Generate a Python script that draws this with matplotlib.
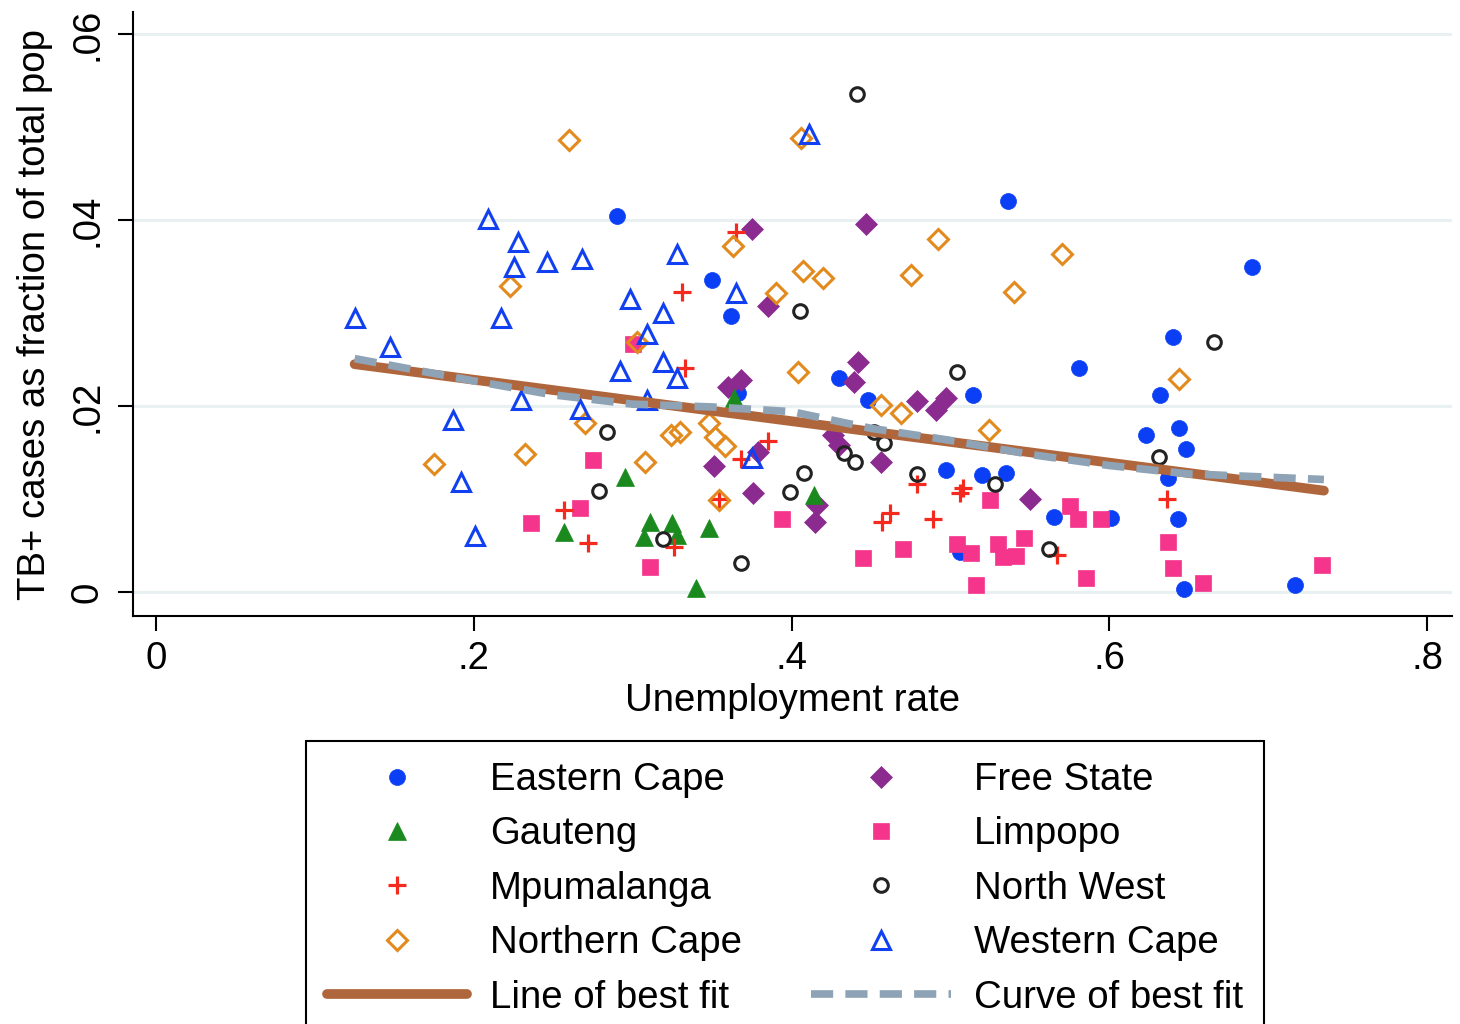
import matplotlib
matplotlib.use("Agg")
import matplotlib.pyplot as plt

plt.rcParams['font.family'] = ['Liberation Sans', 'DejaVu Sans']

# ---- data ----
ec_x = [0.290, 0.350, 0.362, 0.366, 0.430, 0.448, 0.514, 0.497, 0.520, 0.535, 0.565, 0.506, 0.536,
        0.690, 0.640, 0.581, 0.632, 0.623, 0.644, 0.648, 0.637, 0.601, 0.643, 0.647, 0.717]
ec_y = [0.0404, 0.0336, 0.0297, 0.0214, 0.0230, 0.0207, 0.0212, 0.0131, 0.0126, 0.0128, 0.0081, 0.0043, 0.0420,
        0.0349, 0.0274, 0.0241, 0.0212, 0.0169, 0.0176, 0.0154, 0.0123, 0.0080, 0.0078, 0.0003, 0.0007]

fs_x = [0.375, 0.447, 0.385, 0.442, 0.439, 0.368, 0.360, 0.479, 0.497, 0.491, 0.426, 0.430, 0.379,
        0.351, 0.456, 0.376, 0.416, 0.415, 0.550]
fs_y = [0.0390, 0.0396, 0.0308, 0.0247, 0.0226, 0.0228, 0.0220, 0.0205, 0.0209, 0.0196, 0.0169, 0.0158, 0.0151,
        0.0135, 0.0140, 0.0106, 0.0094, 0.0075, 0.0100]

ga_x = [0.364, 0.414, 0.295, 0.257, 0.311, 0.307, 0.325, 0.328, 0.348, 0.340]
ga_y = [0.0209, 0.0104, 0.0124, 0.0065, 0.0075, 0.0059, 0.0074, 0.0061, 0.0069, 0.0004]

li_x = [0.300, 0.275, 0.267, 0.236, 0.311, 0.394, 0.445, 0.470, 0.504, 0.513, 0.516, 0.525, 0.530,
        0.533, 0.541, 0.546, 0.575, 0.580, 0.595, 0.585, 0.637, 0.640, 0.659, 0.734]
li_y = [0.0267, 0.0142, 0.0090, 0.0074, 0.0027, 0.0078, 0.0037, 0.0046, 0.0052, 0.0042, 0.0008, 0.0099, 0.0052,
        0.0038, 0.0039, 0.0058, 0.0092, 0.0079, 0.0078, 0.0015, 0.0054, 0.0026, 0.0010, 0.0029]

mp_x = [0.365, 0.331, 0.333, 0.257, 0.272, 0.326, 0.385, 0.368, 0.354, 0.479, 0.508, 0.506, 0.462,
        0.457, 0.489, 0.567, 0.636]
mp_y = [0.0387, 0.0323, 0.0241, 0.0088, 0.0053, 0.0048, 0.0162, 0.0143, 0.0100, 0.0116, 0.0112, 0.0106, 0.0085,
        0.0075, 0.0079, 0.0040, 0.0100]

nw_x = [0.441, 0.405, 0.504, 0.666, 0.631, 0.562, 0.284, 0.279, 0.319, 0.452, 0.458, 0.433, 0.440,
        0.408, 0.399, 0.479, 0.528, 0.368]
nw_y = [0.0535, 0.0302, 0.0237, 0.0269, 0.0145, 0.0046, 0.0172, 0.0109, 0.0057, 0.0172, 0.0160, 0.0150, 0.0140,
        0.0128, 0.0108, 0.0127, 0.0116, 0.0031]

nc_x = [0.260, 0.406, 0.363, 0.390, 0.407, 0.420, 0.492, 0.475, 0.540, 0.570, 0.644, 0.404, 0.456, 0.469,
        0.524, 0.348, 0.352, 0.358, 0.324, 0.330, 0.308, 0.232, 0.175, 0.270, 0.223, 0.303, 0.354]
nc_y = [0.0486, 0.0488, 0.0372, 0.0322, 0.0345, 0.0338, 0.0380, 0.0341, 0.0323, 0.0363, 0.0229, 0.0237, 0.0201, 0.0192,
        0.0174, 0.0182, 0.0167, 0.0157, 0.0169, 0.0172, 0.0140, 0.0148, 0.0138, 0.0182, 0.0329, 0.0269, 0.0099]

wc_x = [0.411, 0.209, 0.228, 0.225, 0.246, 0.268, 0.328, 0.298, 0.319, 0.309, 0.217, 0.125, 0.147, 0.365,
        0.292, 0.319, 0.328, 0.230, 0.267, 0.309, 0.187, 0.192, 0.201, 0.375]
wc_y = [0.0492, 0.0401, 0.0376, 0.0350, 0.0355, 0.0358, 0.0363, 0.0315, 0.0300, 0.0277, 0.0295, 0.0295, 0.0263, 0.0322,
        0.0238, 0.0247, 0.0230, 0.0207, 0.0197, 0.0207, 0.0185, 0.0118, 0.0060, 0.0144]

fit_x = [0.125, 0.735]
fit_y = [0.0245, 0.0109]

curve_x = [0.125, 0.15, 0.20, 0.25, 0.30, 0.35, 0.40, 0.45, 0.50, 0.55, 0.60, 0.65, 0.735]
curve_y = [0.0251, 0.0243, 0.0227, 0.0212, 0.0202, 0.0199, 0.0194, 0.0176, 0.0163, 0.0148, 0.0136, 0.0127, 0.0121]

x_ticks = [0, 0.2, 0.4, 0.6, 0.8]
x_ticklabels = ['0', '.2', '.4', '.6', '.8']
y_ticks = [0, 0.02, 0.04, 0.06]
y_ticklabels = ['0', '.02', '.04', '.06']

# ---- styles ----
FS = 27.6
BLUE = '#0a3ff5'
styles = {
    'Eastern Cape': dict(marker='o', ms=11.5, mfc=BLUE, mec=BLUE, mew=0.5),
    'Free State': dict(marker='D', ms=10.8, mfc='#8b2a8f', mec='#8b2a8f', mew=0.5),
    'Gauteng': dict(marker='^', ms=13.5, mfc='#1a8a1e', mec='#1a8a1e', mew=0.5),
    'Limpopo': dict(marker='s', ms=11.3, mfc='#f5358c', mec='#f5358c', mew=0.5),
    'Mpumalanga': dict(marker='+', ms=13, mfc='none', mec='#f52a1e', mew=2.3),
    'North West': dict(marker='o', ms=9.8, mfc='none', mec='#222222', mew=2.2),
    'Northern Cape': dict(marker='D', ms=10.3, mfc='none', mec='#e38a1e', mew=2.2),
    'Western Cape': dict(marker='^', ms=12.5, mfc='none', mec='#1040f0', mew=2.2),
}
data = {
    'Eastern Cape': (ec_x, ec_y), 'Free State': (fs_x, fs_y), 'Gauteng': (ga_x, ga_y),
    'Limpopo': (li_x, li_y), 'Mpumalanga': (mp_x, mp_y), 'North West': (nw_x, nw_y),
    'Northern Cape': (nc_x, nc_y), 'Western Cape': (wc_x, wc_y),
}

fig = plt.figure(figsize=(14.6, 10.24), dpi=100)
ax = fig.add_axes([133/1460, 1 - 616/1024, (1452-133)/1460, (616-12)/1024])

handles = {}
for name in ['Eastern Cape', 'Free State', 'Gauteng', 'Limpopo', 'Mpumalanga',
             'North West', 'Northern Cape', 'Western Cape']:
    xs, ys = data[name]
    h, = ax.plot(xs, ys, linestyle='none', zorder=3, **styles[name])
    handles[name] = h

lf, = ax.plot(fit_x, fit_y, color='#b0663c', lw=7, solid_capstyle='round', zorder=4)
cf, = ax.plot(curve_x, curve_y, color='#8ea3b5', lw=5.5, dashes=(2.9, 1.6),
              dash_capstyle='butt', zorder=5)
handles['Line of best fit'] = lf
handles['Curve of best fit'] = cf

ax.set_xlim(-0.01447, 0.8156)
ax.set_ylim(-0.00258, 0.06237)
ax.set_xticks(x_ticks)
ax.set_xticklabels(x_ticklabels)
ax.set_yticks(y_ticks)
ax.set_yticklabels(y_ticklabels, rotation=90, va='center')
for g in y_ticks:
    ax.axhline(g, color='#e8f0f1', lw=2.2, zorder=1)

for s in ['top', 'right']:
    ax.spines[s].set_visible(False)
for s in ['left', 'bottom']:
    ax.spines[s].set_linewidth(1.5)
ax.tick_params(axis='both', length=11, width=1.5, labelsize=FS)
ax.tick_params(axis='y', pad=9)
ax.tick_params(axis='x', pad=7)

ax.set_xlabel('Unemployment rate', fontsize=FS, labelpad=4)
ax.set_ylabel('TB+ cases as fraction of total pop', fontsize=FS, labelpad=12)

order = ['Eastern Cape', 'Gauteng', 'Mpumalanga', 'Northern Cape', 'Line of best fit',
         'Free State', 'Limpopo', 'North West', 'Western Cape', 'Curve of best fit']
leg = fig.legend([handles[k] for k in order], order, ncol=2, loc='upper left',
                 bbox_to_anchor=(306/1460, 1 - 741/1024), fontsize=FS,
                 frameon=True, fancybox=False, edgecolor='black', framealpha=1,
                 handlelength=3.65, handletextpad=0.6, columnspacing=1.8,
                 labelspacing=0.48, borderpad=0.55, borderaxespad=0)
leg.get_frame().set_linewidth(1.5)

fig.savefig('out.png', dpi=100)
